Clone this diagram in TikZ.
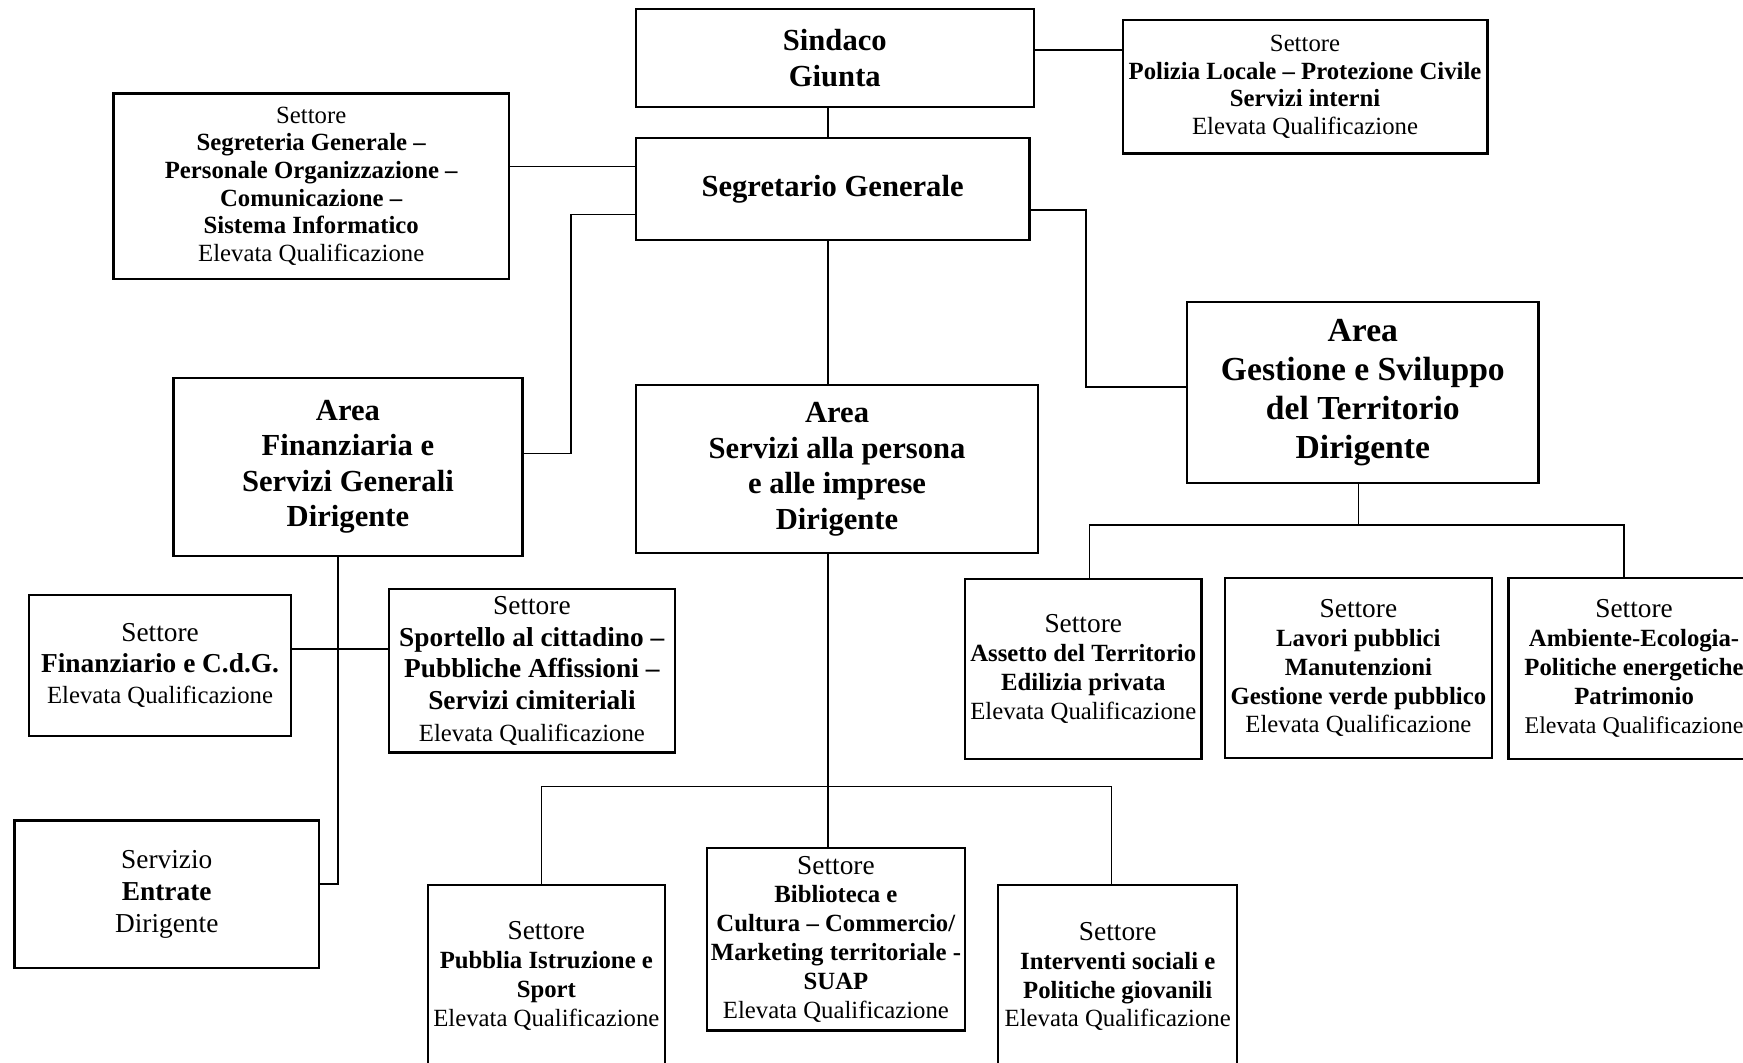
\documentclass[tikz,border=0pt]{standalone}
\usepackage{fontspec}
\setmainfont{Liberation Serif}
\usetikzlibrary{positioning,calc}

\newcommand{\grande}[1]{{\fontsize{21}{22}\selectfont #1}}
\newcommand{\piccolo}[1]{{\fontsize{19}{22}\selectfont #1}}

\tikzset{
    box/.style={draw, line width=1.8pt, align=center, inner sep=2pt},
    boxdim/.style n args={2}{minimum width=#1*0.03cm, minimum height=#2*0.03cm},
    head/.style={box, font=\fontsize{23.5}{27.3}\selectfont\bfseries},
    sett/.style={box, font=\fontsize{19}{22.2}\selectfont},
    link/.style={line width=1.3pt}
}

\begin{document}
\begin{tikzpicture}[x=0.03cm, y=-0.03cm]
    \clip (0,0) rectangle (1568,956);

    \node[head, boxdim={358}{88}] (sindaco) at (751,52) {Sindaco\\Giunta};
    \node[sett, font=\fontsize{19}{21.3}\selectfont, boxdim={328}{120}] (polizia) at (1174,78) {Settore\\\textbf{Polizia Locale – Protezione Civile}\\\textbf{Servizi interni}\\Elevata Qualificazione};
    \node[sett, font=\fontsize{19}{21.3}\selectfont, boxdim={356}{167}] (segreteria) at (280,167.5) {Settore\\\textbf{Segreteria Generale –}\\\textbf{Personale Organizzazione –}\\\textbf{Comunicazione –}\\\textbf{Sistema Informatico}\\Elevata Qualificazione};
    \node[head, boxdim={354}{92}] (segretario) at (749,170) {Segretario Generale};

    \node[head, boxdim={314}{160}] (areafin) at (313,420) {Area\\Finanziaria e\\Servizi Generali\\Dirigente};
    \node[head, boxdim={362}{151}] (areaserv) at (753,422) {Area\\Servizi alla persona\\e alle imprese\\Dirigente};
    \node[head, font=\fontsize{25.8}{30}\selectfont\bfseries, boxdim={316}{163}] (areagest) at (1226,353) {Area\\Gestione e Sviluppo\\del Territorio\\Dirigente};

    \node[sett, font=\fontsize{21}{24}\selectfont, boxdim={236}{127}] (finanziario) at (144,598.5) {Settore\\\textbf{Finanziario e C.d.G.}\\\piccolo{Elevata Qualificazione}};
    \node[sett, font=\fontsize{21}{24.3}\selectfont, boxdim={257}{147}] (sportello) at (478.5,603.5) {Settore\\\textbf{Sportello al cittadino –}\\\textbf{Pubbliche Affissioni –}\\\textbf{Servizi cimiteriali}\\\piccolo{Elevata Qualificazione}};
    \node[sett, font=\fontsize{21}{24.7}\selectfont, boxdim={274}{133}] (entrate) at (150,804.5) {Servizio\\\textbf{Entrate}\\Dirigente};

    \node[sett, boxdim={213}{162}] (assetto) at (974.5,602) {\grande{Settore}\\\textbf{Assetto del Territorio}\\\textbf{Edilizia privata}\\Elevata Qualificazione};
    \node[sett, boxdim={240}{162}] (lavori) at (1222,601) {\grande{Settore}\\\textbf{Lavori pubblici}\\\textbf{Manutenzioni}\\\textbf{Gestione verde pubblico}\\Elevata Qualificazione};
    \node[sett, boxdim={226}{163}] (ambiente) at (1470,601.5) {\grande{Settore}\\\textbf{Ambiente-Ecologia-}\\\textbf{Politiche energetiche}\\\textbf{Patrimonio}\\{\fontsize{18.4}{22}\selectfont Elevata Qualificazione}};

    \node[sett, boxdim={213}{164}] (pubblia) at (491.5,878) {\grande{Settore}\\\textbf{Pubblia Istruzione e}\\\textbf{Sport}\\Elevata Qualificazione};
    \node[sett, boxdim={232}{164}] (biblioteca) at (752,845) {\grande{Settore}\\\textbf{Biblioteca e}\\\textbf{Cultura – Commercio/}\\\textbf{Marketing territoriale -}\\\textbf{SUAP}\\Elevata Qualificazione};
    \node[sett, boxdim={215}{165}] (interventi) at (1005.5,878.5) {\grande{Settore}\\\textbf{Interventi sociali e}\\\textbf{Politiche giovanili}\\Elevata Qualificazione};

    \draw[link] ([xshift=-0.18cm]sindaco.south) -- ([xshift=-0.18cm]sindaco.south |- segretario.north);
    \draw[link] ([yshift=0.21cm]sindaco.east) -- ([yshift=0.21cm]sindaco.east -| polizia.west);
    \draw[link] ([yshift=0.53cm]segreteria.east) -- ([yshift=0.53cm]segreteria.east -| segretario.west);
    \draw[link] ([yshift=-0.69cm]segretario.west) -- ++(-57,0) |- ([yshift=0.36cm]areafin.east);
    \draw[link] ([yshift=-0.57cm]segretario.east) -- ++(50,0) |- ([yshift=0.15cm]areagest.west);
    \draw[link] ([xshift=-0.12cm]segretario.south) -- ([xshift=-0.12cm]segretario.south |- areaserv.north);

    \draw[link] ([xshift=-0.12cm]areagest.south) -- ++(0,37) coordinate (bus1);
    \draw[link] ([xshift=0.165cm]assetto.north) |- (bus1) -| ([xshift=-0.27cm]ambiente.north);

    \draw[link] ([xshift=-0.24cm]areaserv.south) -- ([xshift=-0.24cm]areaserv.south |- biblioteca.north);
    \path ([xshift=-0.24cm]areaserv.south) ++(0,209) coordinate (bus2);
    \draw[link] ([xshift=-0.135cm]pubblia.north) |- (bus2) -| ([xshift=-0.165cm]interventi.north);

    \draw[link] ([xshift=-0.27cm]areafin.south) |- ([yshift=0.285cm]entrate.east);
    \draw[link] ([yshift=0.435cm]finanziario.east) -- ([yshift=0.435cm]finanziario.east -| sportello.west);
\end{tikzpicture}
\end{document}
